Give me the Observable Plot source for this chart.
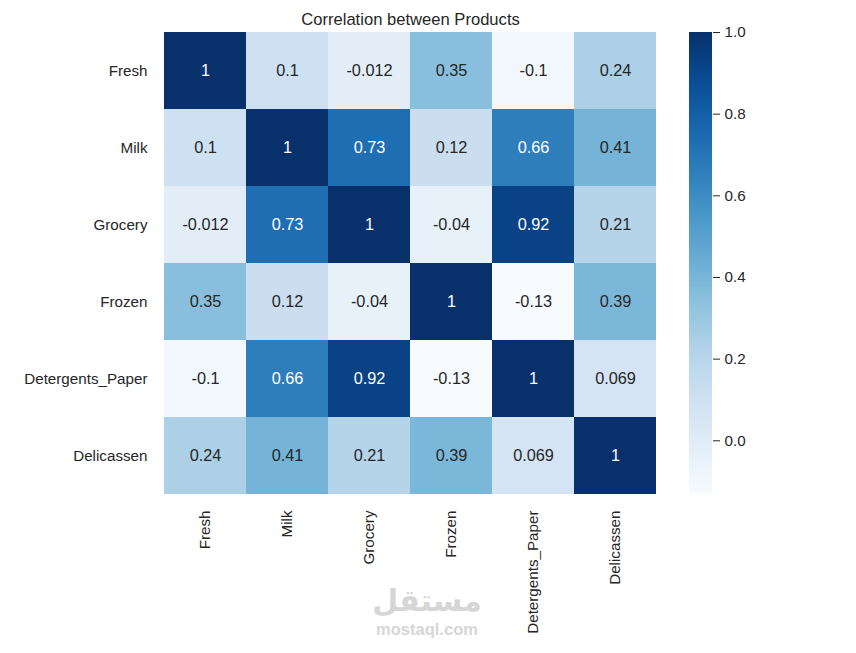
<!DOCTYPE html>
<html>
<head>
<meta charset="utf-8">
<script src="https://cdn.jsdelivr.net/npm/d3@7"></script>
<script src="https://cdn.jsdelivr.net/npm/@observablehq/plot@0.6"></script>
<style>
  html, body { margin: 0; padding: 0; background: #fff; }
  #wrap { position: relative; width: 856px; height: 653px; font-family: "Liberation Sans", Arial, sans-serif; }
  #wrap > svg { position: absolute; left: 0; top: 0; }
  #wm { position: absolute; left: 327px; width: 200px; top: 584px; text-align: center; color: #d6d6d6; }
  #wm .ar { font-family: "DejaVu Sans", sans-serif; font-size: 30px; font-weight: bold; line-height: 34px; }
  #wm .en { font-family: "Liberation Sans", Arial, sans-serif; font-size: 16.5px; font-weight: bold; line-height: 22px; }
</style>
</head>
<body>
<div id="wrap"></div>
<script>
const title = "Correlation between Products";
const categories = ["Fresh", "Milk", "Grocery", "Frozen", "Detergents_Paper", "Delicassen"];
const rowFresh     = [1, 0.1, -0.012, 0.35, -0.1, 0.24];
const rowMilk      = [0.1, 1, 0.73, 0.12, 0.66, 0.41];
const rowGrocery   = [-0.012, 0.73, 1, -0.04, 0.92, 0.21];
const rowFrozen    = [0.35, 0.12, -0.04, 1, -0.13, 0.39];
const rowDetergent = [-0.1, 0.66, 0.92, -0.13, 1, 0.069];
const rowDeli      = [0.24, 0.41, 0.21, 0.39, 0.069, 1];
const colorbarTicks = [0.0, 0.2, 0.4, 0.6, 0.8, 1.0];
const vmin = -0.1315, vmax = 1;

const rows = [rowFresh, rowMilk, rowGrocery, rowFrozen, rowDetergent, rowDeli];
const data = [];
rows.forEach((r, i) => r.forEach((v, j) => data.push({row: categories[i], col: categories[j], value: v})));

const font = '"Liberation Sans", Arial, sans-serif';
const textColor = "#262626";

const main = Plot.plot({
  width: 856, height: 653,
  marginLeft: 162, marginRight: 198, marginTop: 32, marginBottom: 159,
  style: {fontFamily: font, fontSize: "15.2px", color: textColor, background: "transparent"},
  x: {domain: categories, padding: 0, label: null, tickSize: 0, tickRotate: -90, tickPadding: 16},
  y: {domain: categories, padding: 0, label: null, tickSize: 0, tickPadding: 15},
  color: {type: "linear", scheme: "blues", domain: [vmin, vmax]},
  marks: [
    Plot.cell(data, {x: "col", y: "row", fill: "value"}),
    Plot.text(data.filter(d => d.value <= 0.5), {x: "col", y: "row", text: d => String(d.value), fill: textColor, fontSize: 16.3}),
    Plot.text(data.filter(d => d.value > 0.5), {x: "col", y: "row", text: d => String(d.value), fill: "white", fontSize: 16.3}),
    Plot.text([title], {frameAnchor: "top", dy: -19, text: d => d, fontSize: 16.6, fill: textColor})
  ]
});

const steps = d3.range(0, 460);
const stepSize = (vmax - vmin) / steps.length;
const bar = Plot.plot({
  width: 856, height: 653,
  marginLeft: 689, marginRight: 144, marginTop: 32, marginBottom: 159,
  style: {fontFamily: font, fontSize: "15.2px", color: textColor, background: "transparent"},
  y: {domain: [vmin, vmax], label: null, axis: "right", ticks: colorbarTicks, tickFormat: d3.format(".1f"), tickSize: 7, tickPadding: 5},
  color: {type: "linear", scheme: "blues", domain: [vmin, vmax]},
  marks: [
    Plot.rect(steps, {y1: i => vmin + i * stepSize, y2: i => Math.min(vmax, vmin + (i + 2) * stepSize), fill: i => vmin + (i + 0.5) * stepSize, shapeRendering: "crispEdges"})
  ]
});

const wrap = document.getElementById("wrap");
wrap.appendChild(main);
wrap.appendChild(bar);
const wm = document.createElement("div");
wm.id = "wm";
wm.innerHTML = '<div class="ar">مستقل</div><div class="en">mostaql.com</div>';
wrap.appendChild(wm);
</script>
</body>
</html>
